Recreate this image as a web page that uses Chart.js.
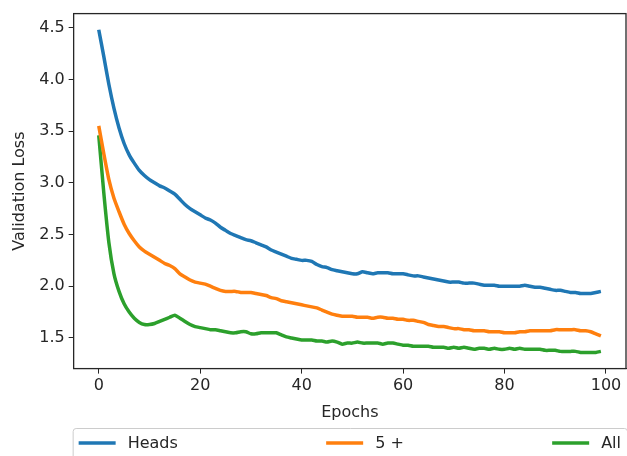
<!DOCTYPE html>
<html>
<head>
<meta charset="utf-8">
<script src="https://cdn.jsdelivr.net/npm/chart.js@4.4.0/dist/chart.umd.min.js"></script>
<style>
    html, body { margin: 0; padding: 0; background: #ffffff; }
    #wrap { width: 627px; height: 456px; position: relative; overflow: hidden; }
</style>
</head>
<body>
<div id="wrap"><canvas id="lossChart" width="627" height="456"></canvas></div>
<script>
// ===== DATA =====
const epochs = Array.from({ length: 100 }, (_, i) => i);

const headsLoss = [
    4.48, 4.22, 3.95, 3.72, 3.53, 3.38, 3.27, 3.19, 3.12, 3.07,
    3.03, 3.00, 2.97, 2.95, 2.92, 2.89, 2.84, 2.79, 2.75, 2.72,
    2.69, 2.66, 2.64, 2.61, 2.57, 2.54, 2.51, 2.49, 2.47, 2.45,
    2.44, 2.42, 2.40, 2.38, 2.35, 2.33, 2.31, 2.29, 2.27, 2.26,
    2.25, 2.25, 2.24, 2.21, 2.19, 2.18, 2.16, 2.15, 2.14, 2.13,
    2.12, 2.12, 2.14, 2.13, 2.12, 2.13, 2.13, 2.13, 2.12, 2.12,
    2.12, 2.11, 2.10, 2.10, 2.09, 2.08, 2.07, 2.06, 2.05, 2.04,
    2.04, 2.04, 2.03, 2.03, 2.03, 2.02, 2.01, 2.01, 2.01, 2.00,
    2.00, 2.00, 2.00, 2.00, 2.01, 2.00, 1.99, 1.99, 1.98, 1.97,
    1.96, 1.96, 1.95, 1.94, 1.94, 1.93, 1.93, 1.93, 1.94, 1.95
];

const fivePlusLoss = [
    3.55, 3.28, 3.03, 2.85, 2.72, 2.60, 2.51, 2.44, 2.38, 2.34,
    2.31, 2.28, 2.25, 2.22, 2.20, 2.17, 2.12, 2.09, 2.06, 2.04,
    2.03, 2.02, 2.00, 1.98, 1.96, 1.95, 1.95, 1.95, 1.94, 1.94,
    1.94, 1.93, 1.92, 1.91, 1.89, 1.88, 1.86, 1.85, 1.84, 1.83,
    1.82, 1.81, 1.80, 1.79, 1.77, 1.75, 1.73, 1.72, 1.71, 1.71,
    1.71, 1.70, 1.70, 1.70, 1.69, 1.70, 1.70, 1.69, 1.69, 1.68,
    1.68, 1.67, 1.67, 1.66, 1.65, 1.63, 1.62, 1.61, 1.61, 1.60,
    1.59, 1.59, 1.58, 1.58, 1.57, 1.57, 1.57, 1.56, 1.56, 1.56,
    1.55, 1.55, 1.55, 1.56, 1.56, 1.57, 1.57, 1.57, 1.57, 1.57,
    1.58, 1.58, 1.58, 1.58, 1.58, 1.57, 1.57, 1.56, 1.54, 1.52
];

const allLoss = [
    3.46, 2.90, 2.42, 2.12, 1.95, 1.83, 1.75, 1.69, 1.65, 1.63,
    1.63, 1.64, 1.66, 1.68, 1.70, 1.72, 1.69, 1.66, 1.63, 1.61,
    1.60, 1.59, 1.58, 1.58, 1.57, 1.56, 1.55, 1.55, 1.56, 1.56,
    1.54, 1.54, 1.55, 1.55, 1.55, 1.55, 1.53, 1.51, 1.50, 1.49,
    1.48, 1.48, 1.48, 1.47, 1.47, 1.46, 1.47, 1.46, 1.44, 1.45,
    1.45, 1.46, 1.45, 1.45, 1.45, 1.45, 1.44, 1.45, 1.45, 1.44,
    1.43, 1.43, 1.42, 1.42, 1.42, 1.42, 1.41, 1.41, 1.41, 1.40,
    1.41, 1.40, 1.41, 1.40, 1.39, 1.40, 1.40, 1.39, 1.40, 1.39,
    1.39, 1.40, 1.39, 1.40, 1.39, 1.39, 1.39, 1.39, 1.38, 1.38,
    1.38, 1.37, 1.37, 1.37, 1.37, 1.36, 1.36, 1.36, 1.36, 1.37
];

const seriesNames = ['Heads', '5 +', 'All'];
const xTicks = [0, 20, 40, 60, 80, 100];
const yTicks = [1.5, 2.0, 2.5, 3.0, 3.5, 4.0, 4.5];

// ===== STYLE =====
const FONT = 'DejaVu Sans';
const INK = '#262626';

// axes box on all four sides, like matplotlib spines
const spinesPlugin = {
    id: 'spines',
    afterDatasetsDraw(chart) {
        const a = chart.chartArea;
        const ctx = chart.ctx;
        ctx.save();
        ctx.strokeStyle = INK;
        ctx.lineWidth = 1.3;
        ctx.strokeRect(a.left, a.top, a.right - a.left, a.bottom - a.top);
        ctx.restore();
    }
};

// legend below the axes, columns spread across the box
const boxLegendPlugin = {
    id: 'boxLegend',
    afterDraw(chart) {
        const ctx = chart.ctx;
        const a = chart.chartArea;
        const left = a.left - 1;
        const right = a.right + 1;
        const top = 428;
        const midY = 443;
        const handleLen = 37;
        const textGap = 12;

        ctx.save();
        ctx.fillStyle = 'rgba(255,255,255,0.8)';
        ctx.strokeStyle = '#cccccc';
        ctx.lineWidth = 1;
        ctx.beginPath();
        ctx.roundRect(left + 0.5, top + 0.5, right - left, 40, 3);
        ctx.fill();
        ctx.stroke();

        ctx.font = '16px ' + FONT;
        const widths = chart.data.datasets.map(ds => handleLen + textGap + ctx.measureText(ds.label).width);
        const inner = (right - 6) - (left + 6);
        const used = widths.reduce((s, w) => s + w, 0);
        const gap = (inner - used) / (widths.length - 1);

        let x = left + 6;
        chart.data.datasets.forEach((ds, i) => {
            ctx.strokeStyle = ds.borderColor;
            ctx.lineWidth = 3.5;
            ctx.beginPath();
            ctx.moveTo(x, midY);
            ctx.lineTo(x + handleLen, midY);
            ctx.stroke();
            ctx.fillStyle = INK;
            ctx.textBaseline = 'middle';
            ctx.textAlign = 'left';
            ctx.fillText(ds.label, x + handleLen + textGap, midY + 1);
            x += widths[i] + gap;
        });
        ctx.restore();
    }
};

function makeDataset(label, values, color) {
    return {
        label: label,
        data: values,
        borderColor: color,
        backgroundColor: color,
        borderWidth: 3.5,
        pointRadius: 0,
        tension: 0.2,
        fill: false
    };
}

new Chart(document.getElementById('lossChart'), {
    type: 'line',
    data: {
        labels: epochs,
        datasets: [
            makeDataset(seriesNames[0], headsLoss, '#1f77b4'),
            makeDataset(seriesNames[1], fivePlusLoss, '#ff7f0e'),
            makeDataset(seriesNames[2], allLoss, '#2ca02c')
        ]
    },
    options: {
        responsive: false,
        animation: false,
        layout: {
            padding: { left: 10, top: 9, right: 1, bottom: 34 }
        },
        plugins: {
            legend: { display: false },
            tooltip: { enabled: false }
        },
        scales: {
            x: {
                type: 'linear',
                min: -4.95,
                max: 103.95,
                afterBuildTicks: scale => { scale.ticks = xTicks.map(v => ({ value: v })); },
                grid: { drawOnChartArea: false, drawTicks: true, tickLength: 5, color: INK },
                border: { display: true, color: INK },
                ticks: { color: INK, font: { family: FONT, size: 16 }, padding: 3, maxRotation: 0 },
                title: {
                    display: true,
                    text: 'Epochs',
                    color: INK,
                    font: { family: FONT, size: 16 },
                    padding: { top: 4, bottom: 0 }
                }
            },
            y: {
                type: 'linear',
                min: 1.2035,
                max: 4.636,
                afterBuildTicks: scale => { scale.ticks = yTicks.map(v => ({ value: v })); },
                grid: { drawOnChartArea: false, drawTicks: true, tickLength: 5, color: INK },
                border: { display: true, color: INK },
                ticks: {
                    color: INK,
                    font: { family: FONT, size: 16 },
                    padding: 4,
                    callback: value => Number(value).toFixed(1)
                },
                title: {
                    display: true,
                    text: 'Validation Loss',
                    color: INK,
                    font: { family: FONT, size: 16 },
                    padding: { top: 0, bottom: 6 }
                }
            }
        }
    },
    plugins: [spinesPlugin, boxLegendPlugin]
});
</script>
</body>
</html>
